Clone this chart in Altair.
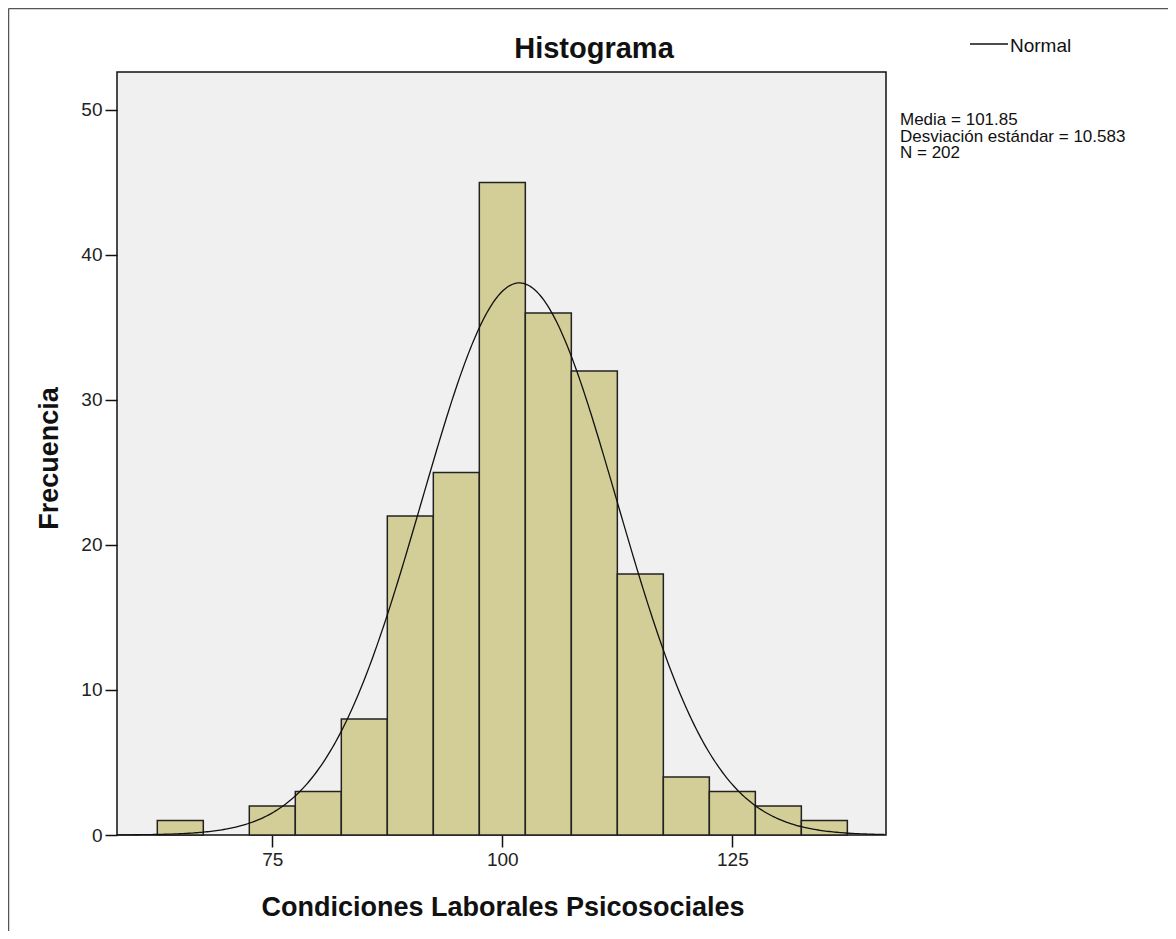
import altair as alt
import pandas as pd

# ---- data ----
bin_start = [62.5, 67.5, 72.5, 77.5, 82.5, 87.5, 92.5, 97.5, 102.5, 107.5, 112.5, 117.5, 122.5, 127.5, 132.5]
counts    = [1,    0,    2,    3,    8,    22,   25,   45,   36,    32,    18,    4,     3,     2,     1]
bin_width = 5
mean_val = 101.85
sd_val = 10.583
n_val = 202
x_ticks = [75, 100, 125]
y_ticks = [0, 10, 20, 30, 40, 50]
stats_lines = ["Media = 101.85", "Desviación estándar = 10.583", "N = 202"]
title_text = "Histograma"
x_title = "Condiciones Laborales Psicosociales"
y_title = "Frecuencia"
legend_label = "Normal"

df = pd.DataFrame({"start": bin_start, "count": counts})
df["end"] = df["start"] + bin_width

X_DOMAIN = [58.12, 141.7]
Y_DOMAIN = [0, 52.62]
FONT = "Liberation Sans"

xscale = alt.Scale(domain=X_DOMAIN, nice=False, zero=False)
yscale = alt.Scale(domain=Y_DOMAIN, nice=False)

xaxis = alt.Axis(values=x_ticks, title=x_title, grid=False, domain=False,
                 tickSize=12, tickWidth=1.5, tickColor="#111", labelPadding=3,
                 labelFontSize=19, labelFont=FONT, labelColor="#222",
                 titleFont=FONT, titleFontSize=27, titleFontWeight="bold", titleColor="#111",
                 titleX=385.5, titleY=80, titleBaseline="alphabetic", titleAnchor="middle")
yaxis = alt.Axis(values=y_ticks, title=y_title, grid=False, domain=False,
                 tickSize=12, tickWidth=1.5, tickColor="#111", labelPadding=3,
                 labelFontSize=19, labelFont=FONT, labelColor="#222",
                 titleFont=FONT, titleFontSize=27, titleFontWeight="bold", titleColor="#111",
                 titleX=-60, titleY=386, titleBaseline="alphabetic", titleAngle=-90,
                 titleAlign="center")

bars = alt.Chart(df).transform_filter("datum.count > 0").mark_rect(
    fill="#D3CE97", stroke="#222", strokeWidth=1.5
).encode(
    x=alt.X("start:Q", scale=xscale, axis=xaxis),
    x2="end:Q",
    y=alt.Y("count:Q", scale=yscale, axis=yaxis),
    y2=alt.datum(0),
)

curve = alt.Chart(alt.sequence(X_DOMAIN[0], X_DOMAIN[1], 0.2, as_="x")).transform_calculate(
    y=f"{n_val}*{bin_width}*exp(-0.5*pow((datum.x-{mean_val})/{sd_val},2))/({sd_val}*sqrt(2*PI))"
).mark_line(color="#111", strokeWidth=1.3).encode(
    x=alt.X("x:Q", scale=xscale),
    y=alt.Y("y:Q", scale=yscale),
)

one = alt.Data(values=[{}])

title = alt.Chart(one).mark_text(
    text=title_text, font=FONT, fontSize=29, fontWeight="bold", color="#111",
    align="center", baseline="alphabetic"
).encode(x=alt.value(477), y=alt.value(-14))

legend_line = alt.Chart(one).mark_rule(color="#111", strokeWidth=1.5).encode(
    x=alt.value(853), x2=alt.value(891), y=alt.value(-28)
)
legend_text = alt.Chart(one).mark_text(
    text=legend_label, font=FONT, fontSize=19, color="#111", align="left", baseline="alphabetic"
).encode(x=alt.value(893), y=alt.value(-20))

stats = alt.Chart(one).mark_text(
    text=stats_lines, font=FONT, fontSize=17, color="#111", align="left",
    baseline="alphabetic", lineHeight=16.7
).encode(x=alt.value(783), y=alt.value(53))

frame_top = alt.Chart(one).mark_rule(color="#555", strokeWidth=1.5).encode(
    x=alt.value(-108.5), x2=alt.value(1051), y=alt.value(-63.5)
)
frame_left = alt.Chart(one).mark_rule(color="#555", strokeWidth=1.5).encode(
    x=alt.value(-108.5), y=alt.value(-63.5), y2=alt.value(859)
)

chart = alt.layer(
    bars, curve, title, legend_line, legend_text, stats, frame_top, frame_left
).properties(
    width=769, height=763,
    autosize=alt.AutoSizeParams(type="none"),
    padding={"left": 109, "top": 64, "right": 282, "bottom": 96},
    background="white",
).configure_view(
    fill="#F0F0F0", stroke="#111", strokeWidth=1.5
)

chart.save("out.html", embed_options={"renderer": "svg", "actions": False})
